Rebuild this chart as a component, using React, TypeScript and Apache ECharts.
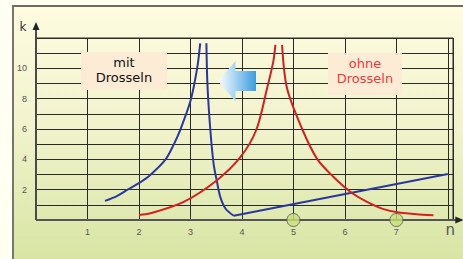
import React, { useEffect, useRef } from "react";
import * as echarts from "echarts";

const xTickLabels = [1, 2, 3, 4, 5, 6, 7];
const yTickLabels = [2, 4, 6, 8, 10];

const blueLeft = [
  [1.34, 1.26], [1.57, 1.58], [1.77, 1.98], [2.0, 2.43], [2.22, 2.97],
  [2.51, 3.96], [2.67, 4.94], [2.8, 5.93], [3.0, 7.84], [3.13, 10.0], [3.19, 11.65],
];
const blueRight = [
  [3.31, 11.65], [3.33, 8.93], [3.385, 6.0], [3.45, 3.7], [3.51, 2.61],
  [3.58, 1.52], [3.68, 0.76], [3.84, 0.28],
];
const blueRamp = [[3.84, 0.28], [8.0, 3.03]];
const redLeft = [
  [2.0, 0.33], [2.22, 0.44], [2.87, 1.2], [3.51, 2.61], [3.97, 4.14],
  [4.28, 5.95], [4.49, 8.7], [4.61, 10.46], [4.65, 11.55],
];
const redRight = [
  [4.78, 11.55], [4.875, 8.7], [5.17, 6.0], [5.46, 4.03], [5.78, 2.83],
  [6.11, 1.85], [6.43, 1.2], [6.75, 0.72], [7.08, 0.48], [7.72, 0.31],
];
const markers = [[5, 0], [7, 0]];

const BLUE = "#2b379c";
const RED = "#d42020";

export default function App() {
  const ref = useRef<HTMLDivElement>(null);
  useEffect(() => {
    if (!ref.current) return;
    const chart = echarts.init(ref.current, null, { renderer: "svg" });
    const curve = (data: number[][], color: string, smooth: boolean) => ({
      type: "line",
      data,
      smooth: smooth ? 0.3 : false,
      showSymbol: false,
      symbol: "none",
      lineStyle: { color, width: 2 },
      z: 3,
    });
    chart.setOption({
      animation: false,
      backgroundColor: "transparent",
      grid: {
        left: 36, right: 10, top: 38, bottom: 39,
        containLabel: false,
        outerBoundsMode: "none",
        show: true,
        borderColor: "#2a2a2a",
        borderWidth: 1,
        backgroundColor: "transparent",
      },
      xAxis: {
        type: "value", min: 0, max: 8.1, interval: 1,
        axisLine: { show: false },
        axisTick: { show: false },
        splitLine: { show: true, lineStyle: { color: "#2a2a2a", width: 1 } },
        axisLabel: {
          color: "#555", fontSize: 9, fontFamily: "Liberation Sans", margin: 7,
          formatter: (v: number) => (xTickLabels.includes(v) ? String(v) : ""),
        },
      },
      yAxis: {
        type: "value", min: 0, max: 12, interval: 1,
        axisLine: { show: false },
        axisTick: { show: false },
        splitLine: { show: true, lineStyle: { color: "#2a2a2a", width: 1 } },
        axisLabel: {
          color: "#555", fontSize: 9, fontFamily: "Liberation Sans", margin: 9,
          formatter: (v: number) => (yTickLabels.includes(v) ? String(v) : ""),
        },
      },
      series: [
        curve(blueLeft, BLUE, true),
        curve(blueRight, BLUE, true),
        curve(blueRamp, BLUE, false),
        curve(redLeft, RED, true),
        curve(redRight, RED, true),
        {
          type: "scatter",
          data: markers,
          symbolSize: 13,
          clip: false,
          itemStyle: { color: "#c8df7c", borderColor: "#555", borderWidth: 1 },
          z: 6,
        },
      ],
    });
    const p0 = chart.convertToPixel({ gridIndex: 0 }, [0, 0]) as number[];
    const pY = chart.convertToPixel({ gridIndex: 0 }, [0, 13.05]) as number[];
    const pX = chart.convertToPixel({ gridIndex: 0 }, [8.3, 0]) as number[];
    const axisColor = "#4a4a4a";
    chart.setOption({
      graphic: [
        { type: "line", z: 4, shape: { x1: p0[0], y1: p0[1], x2: pY[0], y2: pY[1] + 6 }, style: { stroke: axisColor, lineWidth: 2 } },
        { type: "polygon", z: 4, shape: { points: [[pY[0], pY[1]], [pY[0] - 3.5, pY[1] + 8], [pY[0] + 3.5, pY[1] + 8]] }, style: { fill: "#222" } },
        { type: "line", z: 4, shape: { x1: p0[0], y1: p0[1], x2: pX[0] - 6, y2: pX[1] }, style: { stroke: "#555", lineWidth: 2 } },
        { type: "polygon", z: 4, shape: { points: [[pX[0], pX[1]], [pX[0] - 8, pX[1] - 3.5], [pX[0] - 8, pX[1] + 3.5]] }, style: { fill: "#222" } },
        { type: "text", z: 10, x: pY[0] - 13, y: pY[1] + 5, style: { text: "k", fill: "#333", fontSize: 12, fontFamily: "DejaVu Sans", align: "center", verticalAlign: "middle" } },
        { type: "text", z: 10, x: pX[0] - 13, y: pX[1] + 10, style: { text: "n", fill: "#555", fontSize: 15, fontFamily: "DejaVu Sans", align: "center", verticalAlign: "middle" } },
        { type: "rect", z: 10, shape: { x: 81, y: 52, width: 86, height: 38 }, style: { fill: "#fcecd5" } },
        { type: "text", z: 11, x: 124, y: 62, style: { text: "mit", fill: "#111", fontSize: 13, fontFamily: "DejaVu Sans", align: "center", verticalAlign: "middle" } },
        { type: "text", z: 11, x: 124, y: 77, style: { text: "Drosseln", fill: "#111", fontSize: 13, fontFamily: "DejaVu Sans", align: "center", verticalAlign: "middle" } },
        { type: "rect", z: 10, shape: { x: 328, y: 53, width: 74, height: 42 }, style: { fill: "#fcecd5" } },
        { type: "text", z: 11, x: 365, y: 63, style: { text: "ohne", fill: "#ee3a3a", fontSize: 13, fontFamily: "DejaVu Sans", align: "center", verticalAlign: "middle" } },
        { type: "text", z: 11, x: 365, y: 78.5, style: { text: "Drosseln", fill: "#ee3a3a", fontSize: 13, fontFamily: "DejaVu Sans", align: "center", verticalAlign: "middle" } },
        {
          type: "polygon", z: 10,
          shape: { points: [[218, 81], [235.5, 61], [235.5, 71], [256, 71], [256, 91], [235.5, 91], [235.5, 101.5]] },
          style: {
            fill: new echarts.graphic.LinearGradient(0, 0, 1, 0, [
              { offset: 0, color: "#ffffff" },
              { offset: 1, color: "#3a9ee0" },
            ]),
          },
        },
      ],
    });
    return () => chart.dispose();
  }, []);
  return (
    <div style={{ position: "absolute", left: 0, top: 0, width: 463, height: 259, overflow: "hidden", background: "#fffff2" }}>
      <div
        style={{
          position: "absolute", left: 12, top: 5, width: 470, height: 270,
          boxSizing: "border-box",
          borderLeft: "2px solid #77776a", borderTop: "2px solid #6b6b60",
          background: "linear-gradient(180deg, #fefbe0 0%, #f1f3cc 45%, #d4e39f 100%)",
        }}
      />
      <div ref={ref} style={{ position: "absolute", left: 0, top: 0, width: 463, height: 259 }} />
    </div>
  );
}
